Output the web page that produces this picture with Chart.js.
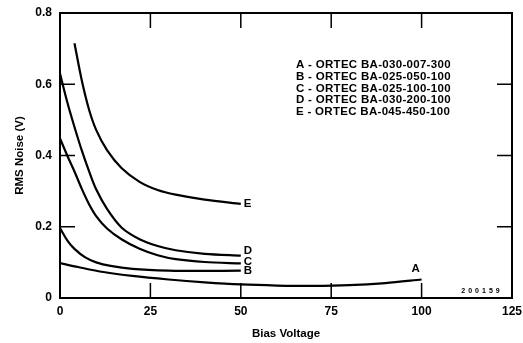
<!DOCTYPE html>
<html>
<head>
<meta charset="utf-8">
<script src="https://cdn.jsdelivr.net/npm/chart.js@4.4.1/dist/chart.umd.min.js"></script>
<style>
  html, body { margin: 0; padding: 0; background: #fff; }
  #wrap { width: 523px; height: 343px; }
</style>
</head>
<body>
<div id="wrap"><canvas id="noiseChart" width="523" height="343"></canvas></div>
<script>
// === Data ===
const xTicks = [0, 25, 50, 75, 100, 125];
const yTicks = [0, 0.2, 0.4, 0.6, 0.8];
const innerXTicks = [25, 50, 75, 100];
const innerYTicks = [0.2, 0.4, 0.6];

const curveNames = ['A', 'B', 'C', 'D', 'E'];
const legendLines = [
  'A - ORTEC BA-030-007-300',
  'B - ORTEC BA-025-050-100',
  'C - ORTEC BA-025-100-100',
  'D - ORTEC BA-030-200-100',
  'E - ORTEC BA-045-450-100'
];

const biasA  = [0, 5, 12, 20, 30, 40, 50, 60, 70, 80, 90, 100];
const noiseA = [0.098, 0.087, 0.073, 0.062, 0.052, 0.044, 0.038, 0.035, 0.034, 0.036, 0.042, 0.052];

const biasB  = [0, 2, 4, 7, 10, 14, 20, 30, 40, 50];
const noiseB = [0.196, 0.162, 0.138, 0.114, 0.1, 0.09, 0.082, 0.077, 0.076, 0.077];

const biasC  = [0, 2, 4, 6, 8, 10, 13, 17, 22, 27, 32, 40, 50];
const noiseC = [0.448, 0.4, 0.355, 0.307, 0.264, 0.23, 0.195, 0.165, 0.138, 0.12, 0.109, 0.101, 0.097];

const biasD  = [0, 2, 4, 6, 8, 10, 13, 17, 22, 27, 32, 40, 50];
const noiseD = [0.63, 0.55, 0.48, 0.415, 0.357, 0.305, 0.25, 0.198, 0.165, 0.146, 0.134, 0.124, 0.119];

const biasE  = [4, 6, 8, 10, 13, 17, 22, 27, 32, 40, 50];
const noiseE = [0.715, 0.612, 0.53, 0.472, 0.415, 0.365, 0.326, 0.303, 0.29, 0.276, 0.264];

const curves = [[biasA, noiseA], [biasB, noiseB], [biasC, noiseC], [biasD, noiseD], [biasE, noiseE]];

const FONT = '"Liberation Sans", Arial, sans-serif';

(function () {
  'use strict';

  Chart.defaults.color = '#000';
  Chart.defaults.font.family = FONT;

  // frame, inward ticks and the text inside the plot
  const framePlugin = {
    id: 'frame',
    afterDatasetsDraw(chart) {
      const { ctx, chartArea: a, scales: { x, y } } = chart;
      ctx.save();
      ctx.strokeStyle = '#000';
      ctx.lineWidth = 2;
      ctx.strokeRect(a.left, a.top, a.right - a.left, a.bottom - a.top);

      ctx.lineWidth = 1.5;
      ctx.beginPath();
      innerXTicks.forEach(v => {
        const px = x.getPixelForValue(v);
        ctx.moveTo(px, a.bottom); ctx.lineTo(px, a.bottom - 15);
        ctx.moveTo(px, a.top); ctx.lineTo(px, a.top + 15);
      });
      innerYTicks.forEach(v => {
        const py = y.getPixelForValue(v);
        ctx.moveTo(a.left, py); ctx.lineTo(a.left + 15, py);
        ctx.moveTo(a.right, py); ctx.lineTo(a.right - 15, py);
      });
      ctx.stroke();

      // curve letters at the line ends
      ctx.fillStyle = '#000';
      ctx.font = 'bold 11.5px ' + FONT;
      ctx.textBaseline = 'middle';
      const labelDy = [-11, 0, -2, -5, 0];
      curves.forEach((c, i) => {
        const xs = c[0], ys = c[1];
        const px = x.getPixelForValue(xs[xs.length - 1]);
        const py = y.getPixelForValue(ys[ys.length - 1]);
        if (i === 0) {
          ctx.textAlign = 'center';
          ctx.fillText(curveNames[i], px - 6, py + labelDy[i]);
        } else {
          ctx.textAlign = 'left';
          ctx.fillText(curveNames[i], px + 3, py + labelDy[i]);
        }
      });

      // key
      ctx.textAlign = 'left';
      ctx.font = 'bold 11.5px ' + FONT;
      ctx.letterSpacing = '0.3px';
      legendLines.forEach((t, i) => {
        ctx.fillText(t, a.left + 236, a.top + 52 + i * 11.7);
      });

      // drawing number
      ctx.font = 'bold 7px ' + FONT;
      ctx.letterSpacing = '3px';
      ctx.textAlign = 'center';
      ctx.fillText('200159', a.right - 30, a.bottom - 7);
      ctx.restore();
    }
  };

  const ctx = document.getElementById('noiseChart');
  new Chart(ctx, {
    type: 'line',
    data: {
      datasets: curves.map((c, i) => ({
        label: curveNames[i],
        data: c[0].map((v, j) => ({ x: v, y: c[1][j] })),
        borderColor: '#000',
        borderWidth: 2.2,
        pointRadius: 0,
        tension: 0.3,
        fill: false
      }))
    },
    options: {
      responsive: false,
      animation: false,
      layout: { padding: { top: 13, right: 11, left: 0, bottom: 0 } },
      plugins: {
        legend: { display: false },
        tooltip: { enabled: false }
      },
      scales: {
        x: {
          type: 'linear',
          min: 0,
          max: 125,
          afterBuildTicks: s => { s.ticks = xTicks.map(v => ({ value: v })); },
          afterFit: s => { s.height = 45; s.paddingLeft = 0; s.paddingRight = 0; },
          grid: { display: false, drawTicks: false },
          border: { display: false },
          ticks: {
            padding: 6,
            maxRotation: 0,
            font: { size: 12, weight: 'bold' }
          },
          title: {
            display: true,
            text: 'Bias Voltage',
            font: { size: 11.5, weight: 'bold' },
            padding: { top: 6, bottom: 2 }
          }
        },
        y: {
          min: 0,
          max: 0.8,
          afterBuildTicks: s => { s.ticks = yTicks.map(v => ({ value: v })); },
          afterFit: s => { s.width = 60; s.paddingTop = 0; s.paddingBottom = 0; },
          grid: { display: false, drawTicks: false },
          border: { display: false },
          ticks: {
            padding: 8,
            font: { size: 12, weight: 'bold' },
            callback: v => (v === 0 ? '0' : v.toFixed(1))
          },
          title: {
            display: true,
            text: 'RMS Noise (V)',
            font: { size: 11.5, weight: 'bold' },
            padding: { top: 13, bottom: 0 }
          }
        }
      }
    },
    plugins: [framePlugin]
  });
})();
</script>
</body>
</html>
